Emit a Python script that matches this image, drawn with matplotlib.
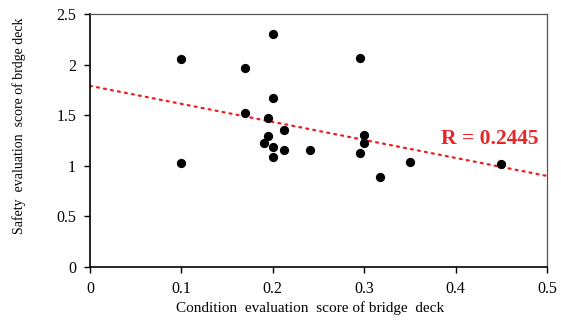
import numpy as np
import matplotlib.pyplot as plt

# condition score vs safety score, one point per bridge deck
condition = [0.10, 0.10, 0.20, 0.17, 0.295, 0.20, 0.17, 0.195, 0.212, 0.195,
             0.19, 0.20, 0.212, 0.20, 0.241, 0.30, 0.30, 0.295, 0.317, 0.35, 0.45]
safety = [2.06, 1.03, 2.30, 1.97, 2.07, 1.67, 1.52, 1.47, 1.35, 1.29,
          1.23, 1.19, 1.16, 1.09, 1.16, 1.30, 1.23, 1.13, 0.89, 1.04, 1.02]

# linear trend line
trend_intercept = 1.79
trend_slope = -1.78
r_label = 'R = 0.2445'

plt.rcParams['font.family'] = ['Liberation Serif', 'DejaVu Serif']

fig = plt.figure(figsize=(5.61, 3.26), dpi=100)
ax = fig.add_axes([0.1604, 0.181, 0.8146, 0.776])

tx = np.array([0.0, 0.5])
ax.plot(tx, trend_intercept + trend_slope * tx, color='#ee1c1c', lw=1.6,
        linestyle=(0, (0.9, 2.3)), dash_capstyle='round', zorder=2)
ax.scatter(condition, safety, s=32, color='black', zorder=3)

ax.text(0.4375, 1.265, r_label, color='#e8262a', fontsize=15.5,
        fontweight='bold', ha='center', va='center')

ax.set_xlim(0, 0.5)
ax.set_ylim(0, 2.5)
ax.set_xticks([0, 0.1, 0.2, 0.3, 0.4, 0.5])
ax.set_xticklabels(['0', '0.1', '0.2', '0.3', '0.4', '0.5'])
ax.set_yticks([0, 0.5, 1, 1.5, 2, 2.5])
ax.set_yticklabels(['0', '0.5', '1', '1.5', '2', '2.5'])
ax.tick_params(direction='out', length=4, width=1, labelsize=11.5, pad=6)

for side in ['left', 'bottom']:
    ax.spines[side].set_linewidth(1.2)
for side in ['top', 'right']:
    ax.spines[side].set_color('#555555')
    ax.spines[side].set_linewidth(0.9)

ax.set_xlabel('Condition  evaluation  score of bridge  deck', fontsize=11)
ax.xaxis.set_label_coords(0.481, -0.135)
ax.set_ylabel('Safety  evaluation  score of brdge deck', fontsize=10)
ax.yaxis.set_label_coords(-0.14, 0.557)

fig.savefig('out.png', dpi=100)
